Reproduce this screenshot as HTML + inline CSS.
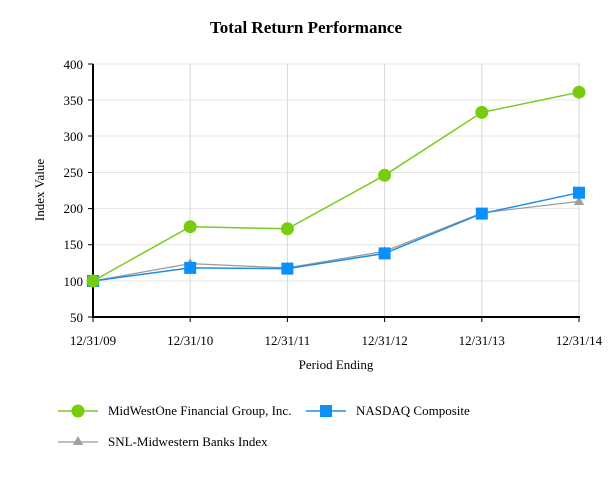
<!DOCTYPE html>
<html><head><meta charset="utf-8"><style>body{margin:0;background:#fff}svg{display:block}text{font-family:"Liberation Serif",serif;fill:#000}</style></head><body>
<svg width="613" height="480" viewBox="0 0 613 480">
<text x="306" y="33" font-size="17" font-weight="bold" text-anchor="middle">Total Return Performance</text>
<g stroke="#e6e6e6" stroke-width="1">
<line x1="93" y1="64" x2="580" y2="64"/><line x1="93" y1="100" x2="580" y2="100"/><line x1="93" y1="136" x2="580" y2="136"/><line x1="93" y1="172.5" x2="580" y2="172.5"/><line x1="93" y1="208.6" x2="580" y2="208.6"/><line x1="93" y1="244.7" x2="580" y2="244.7"/><line x1="93" y1="281" x2="580" y2="281"/>
</g>
<g stroke="#d8d8d8"><line x1="190.2" y1="64" x2="190.2" y2="317"/><line x1="287.4" y1="64" x2="287.4" y2="317"/><line x1="384.6" y1="64" x2="384.6" y2="317"/><line x1="481.8" y1="64" x2="481.8" y2="317"/><line x1="579" y1="64" x2="579" y2="317"/></g>
<g stroke="#000" stroke-width="2"><line x1="93" y1="64" x2="93" y2="318"/><line x1="92" y1="317" x2="580" y2="317"/></g>
<g stroke="#000" stroke-width="1"><line x1="88" y1="64" x2="93" y2="64"/><line x1="88" y1="100" x2="93" y2="100"/><line x1="88" y1="136" x2="93" y2="136"/><line x1="88" y1="172.5" x2="93" y2="172.5"/><line x1="88" y1="208.6" x2="93" y2="208.6"/><line x1="88" y1="244.7" x2="93" y2="244.7"/><line x1="88" y1="281" x2="93" y2="281"/><line x1="88" y1="317" x2="93" y2="317"/>
<line x1="93" y1="317" x2="93" y2="322"/><line x1="190.2" y1="317" x2="190.2" y2="322"/><line x1="287.4" y1="317" x2="287.4" y2="322"/><line x1="384.6" y1="317" x2="384.6" y2="322"/><line x1="481.8" y1="317" x2="481.8" y2="322"/><line x1="579" y1="317" x2="579" y2="322"/></g>
<g font-size="13" text-anchor="end"><text x="83" y="69">400</text><text x="83" y="105">350</text><text x="83" y="141">300</text><text x="83" y="177">250</text><text x="83" y="213">200</text><text x="83" y="249">150</text><text x="83" y="286">100</text><text x="83" y="322">50</text></g>
<g font-size="13" text-anchor="middle"><text x="93" y="345">12/31/09</text><text x="190.2" y="345">12/31/10</text><text x="287.4" y="345">12/31/11</text><text x="384.6" y="345">12/31/12</text><text x="481.8" y="345">12/31/13</text><text x="579" y="345">12/31/14</text>
<text x="336" y="369">Period Ending</text></g>
<text transform="translate(44,190) rotate(-90)" font-size="13" text-anchor="middle">Index Value</text>
<polyline fill="none" stroke="#999" stroke-width="1.2" points="93,281 190.2,263.6 287.4,267.9 384.6,251.3 481.8,212.9 579,201.4"/>
<g fill="#a0a0a0"><polygon points="190.2,258 185,267 195.4,267"/><polygon points="287.4,262 282.2,271 292.6,271"/><polygon points="384.6,246 379.4,255 389.8,255"/><polygon points="481.8,208 476.6,217 487,217"/><polygon points="579,196 573.8,205 584.2,205"/></g>
<polyline fill="none" stroke="#1e8ee8" stroke-width="1.5" points="93,281 190.2,267.9 287.4,268.6 384.6,253.4 481.8,213.6 579,192.7"/>
<g fill="#0a90f8"><rect x="87" y="275" width="12" height="12"/><rect x="184.2" y="261.9" width="12" height="12"/><rect x="281.4" y="262.6" width="12" height="12"/><rect x="378.6" y="247.4" width="12" height="12"/><rect x="475.8" y="207.6" width="12" height="12"/><rect x="573" y="186.7" width="12" height="12"/></g>
<polyline fill="none" stroke="#7acb1f" stroke-width="1.5" points="93,281 190.2,226.7 287.4,228.8 384.6,175.3 481.8,112.4 579,92.2"/>
<g fill="#78cc10"><circle cx="93" cy="281" r="6.5"/><circle cx="190.2" cy="226.7" r="6.5"/><circle cx="287.4" cy="228.8" r="6.5"/><circle cx="384.6" cy="175.3" r="6.5"/><circle cx="481.8" cy="112.4" r="6.5"/><circle cx="579" cy="92.2" r="6.5"/></g>
<line x1="58" y1="411" x2="98" y2="411" stroke="#7acb1f" stroke-width="1.5"/><circle cx="78" cy="411" r="6.5" fill="#78cc10"/>
<text x="108" y="415" font-size="13">MidWestOne Financial Group, Inc.</text>
<line x1="306" y1="411" x2="346" y2="411" stroke="#1e8ee8" stroke-width="1.5"/><rect x="320" y="405" width="12" height="12" fill="#0a90f8"/>
<text x="356" y="415" font-size="13">NASDAQ Composite</text>
<line x1="58" y1="442" x2="98" y2="442" stroke="#999" stroke-width="1.2"/><polygon points="78,436 72.8,445 83.2,445" fill="#a0a0a0"/>
<text x="108" y="446" font-size="13">SNL-Midwestern Banks Index</text>
</svg>
</body></html>
